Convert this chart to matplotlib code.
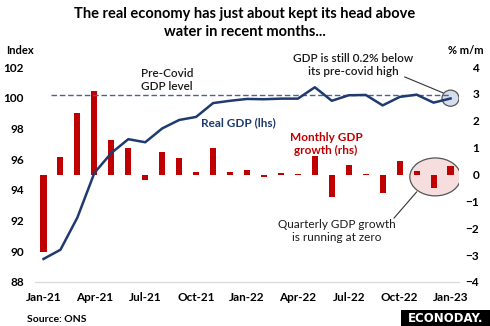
import numpy as np
import matplotlib
matplotlib.use("Agg")
import matplotlib.pyplot as plt
from matplotlib.patches import Ellipse, Rectangle

plt.rcParams["font.family"] = ["Lato", "DejaVu Sans"]

NAVY, RED, DASH = "#1F3A6E", "#C00000", "#4A6196"

# ---- data ----
months = ["Jan-21", "Feb-21", "Mar-21", "Apr-21", "May-21", "Jun-21", "Jul-21",
          "Aug-21", "Sep-21", "Oct-21", "Nov-21", "Dec-21", "Jan-22", "Feb-22",
          "Mar-22", "Apr-22", "May-22", "Jun-22", "Jul-22", "Aug-22", "Sep-22",
          "Oct-22", "Nov-22", "Dec-22", "Jan-23"]
gdp_index = [89.5, 90.1, 92.2, 95.1, 96.4, 97.3, 97.1, 98.0, 98.55, 98.75,
             99.65, 99.8, 99.92, 99.9, 99.94, 99.94, 100.68, 99.8, 100.16,
             100.18, 99.5, 100.05, 100.2, 99.68, 99.95]
mom_growth = [-2.9, 0.65, 2.3, 3.1, 1.3, 1.0, -0.2, 0.85, 0.6, 0.1, 1.0, 0.1,
              0.15, -0.1, 0.05, 0.02, 0.7, -0.85, 0.35, 0.02, -0.7, 0.5, 0.12,
              -0.5, 0.3]
precovid_level = 100.2
tick_every = 3

x = np.arange(len(months))

W, H = 490, 326
fig = plt.figure(figsize=(W / 100, H / 100), dpi=100)
ax = fig.add_axes([35 / W, 44 / H, (459 - 35) / W, 215 / H])   # bars, rhs
ax2 = ax.twinx()                                               # line, lhs

# bars (right axis)
ax.bar(x, mom_growth, width=0.36, color=RED, zorder=3)
ax.set_ylim(-4, 4)
ax.set_xlim(-0.5, len(months) - 0.5)
ax.yaxis.tick_right()
ax.set_yticks(range(-4, 5))
ax.tick_params(axis="y", length=0, pad=14.4, labelsize=8.5)
for t in ax.get_yticklabels():
    t.set_horizontalalignment("right")
    t.set_fontweight("bold")
ax.set_xticks(x[::tick_every])
ax.set_xticklabels(months[::tick_every], fontweight="bold")
ax.tick_params(axis="x", length=0, pad=7, labelsize=8.5)

# highlight ellipses
ax.add_patch(Ellipse((24, 2.84), 1.0, 0.6, fc="#D6DEEE", ec="#555555", lw=0.9, zorder=1))
ax.add_patch(Ellipse((23.1, -0.09), 3.0, 1.41, fc="#F6DEDE", ec="#555555", lw=0.9, zorder=1))
ax.plot([21.3, 23.55], [3.63, 3.04], color="#333333", lw=0.8, zorder=2)
ax.plot([22.0, 20.67], [-0.65, -1.62], color="#333333", lw=0.8, zorder=2)

# line (left axis)
ax2.plot(x, gdp_index, color=NAVY, lw=1.8, zorder=4)
ax2.hlines(precovid_level, 0.45, 24, colors=DASH, linestyles=(0, (4, 2)), lw=1.0)
ax2.set_ylim(88, 102)
ax2.yaxis.tick_left()
ax2.set_yticks(range(88, 103, 2))
ax2.tick_params(axis="y", length=0, pad=8, labelsize=8.5)
for t in ax2.get_yticklabels():
    t.set_fontweight("bold")

for a in (ax, ax2):
    for s in ("top", "left", "right"):
        a.spines[s].set_visible(False)
    a.spines["bottom"].set_color("#D9D9D9")

def ftext(px, py, s, **kw):
    fig.text(px / W, 1 - py / H, s, **kw)

ftext(245, 23, "The real economy has just about kept its head above\nwater in recent months...",
      ha="center", va="center", fontsize=10.5, fontweight="bold", linespacing=1.35)
ftext(20, 50, "Index", ha="center", va="center", fontsize=8, fontweight="bold")
ftext(466, 50, "% m/m", ha="center", va="center", fontsize=8, fontweight="bold")
ftext(167, 80, "Pre-Covid\nGDP level", ha="center", va="center", fontsize=8.5,
      color="#1a1a1a", fontweight="semibold", linespacing=1.3)
ftext(238, 123, "Real GDP (lhs)", ha="center", va="center", fontsize=8.5,
      fontweight="bold", color=NAVY)
ftext(326, 144, "Monthly GDP\ngrowth (rhs)", ha="center", va="center", fontsize=8.5,
      fontweight="bold", color=RED, linespacing=1.3)
ftext(353, 65, "GDP is still 0.2% below\nits pre-covid high", ha="center", va="center",
      fontsize=8.5, color="#1a1a1a", fontweight="semibold", linespacing=1.3)
ftext(337, 231, "Quarterly GDP growth\nis running at zero", ha="center", va="center",
      fontsize=8.5, color="#1a1a1a", linespacing=1.3)
ftext(27, 319, "Source: ONS", ha="left", va="center", fontsize=7.5, fontweight="bold")

fig.patches.append(Rectangle((401 / W, 0), 89 / W, 16 / H, transform=fig.transFigure,
                             fc="black", ec="none"))
ftext(446, 318, "ECONODAY.", ha="center", va="center", fontsize=8.5, fontweight="bold",
      color="white", family="DejaVu Sans")

fig.savefig("out.png", dpi=100)
